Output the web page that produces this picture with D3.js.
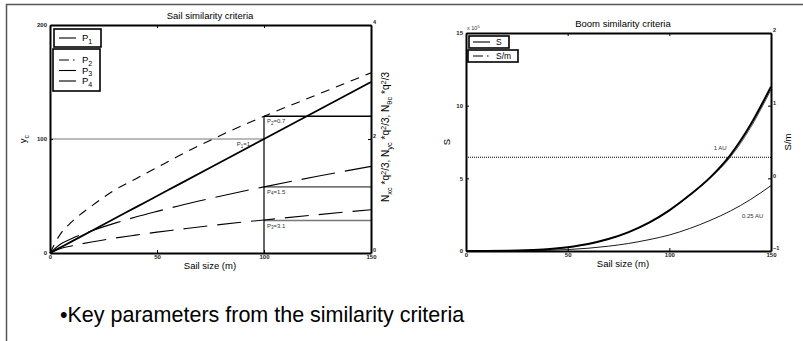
<!DOCTYPE html>
<html>
<head>
<meta charset="utf-8">
<script src="https://cdn.jsdelivr.net/npm/d3@7"></script>
<style>
  body { margin: 0; background: #fff; }
  svg { display: block; font-family: 'Liberation Sans', Arial, sans-serif; }
  .tick text { font-size: 6px; font-weight: bold; fill: #222; }
</style>
</head>
<body>
<svg id="chart" width="803" height="341"></svg>
<script>
// ---- sail similarity data (left panel) ----
const sailSize = [0, 5, 10, 20, 30, 40, 50, 60, 75, 100, 125, 150];
const p1Values = [0, 5, 10, 20, 30, 40, 50, 60, 75, 100, 125, 150];
const p2Values = [0, 17, 27, 42, 55, 65, 75, 85, 99, 120, 139, 158];
const p3Values = [0, 3.9, 6.2, 9.9, 13, 15.7, 18.3, 20.6, 24, 29, 33.6, 38];
const p4Values = [0, 7.9, 12.5, 19.8, 26, 31.5, 36.5, 41.3, 47.9, 58, 67.3, 76];
const sailRefs = [
  { name: 'P', sub: '1', val: '=1',   y: 100, from: 0,   to: 100 },
  { name: 'P', sub: '2', val: '=0.7', y: 120, from: 100, to: 150 },
  { name: 'P', sub: '4', val: '=1.5', y: 58,  from: 100, to: 150 },
  { name: 'P', sub: '3', val: '=3.1', y: 28.5, from: 100, to: 150 }
];
const sailXTicks = [0, 50, 100, 150];
const sailYTicks = [0, 100, 200];
const sailY2Ticks = [0, 2, 4];

// ---- boom similarity data (right panel) ----
const boomSize = [0, 10, 20, 30, 40, 50, 60, 70, 80, 90, 100, 110, 120, 130, 140, 150];
const boomS = [0, 0.001, 0.01, 0.045, 0.12, 0.26, 0.48, 0.82, 1.3, 1.95, 2.8, 3.85, 5.05, 6.6, 8.7, 11.3];
const boomSm = [-1, -1, -0.998, -0.99, -0.976, -0.95, -0.905, -0.838, -0.742, -0.613, -0.44, -0.235, 0.0, 0.29, 0.7, 1.22];
const boomQuarterAU = [0, 0, 0.004, 0.018, 0.05, 0.1, 0.19, 0.33, 0.52, 0.78, 1.1, 1.55, 2.1, 2.75, 3.55, 4.5];
const oneAULevel = 6.45;
const boomXTicks = [0, 50, 100, 150];
const boomYTicks = [0, 5, 10, 15];
const boomY2Ticks = [-1, 0, 1, 2];

const svg = d3.select('#chart');

// slide frame
svg.append('path')
  .attr('d', 'M6.5,341 V4.5 H803')
  .attr('fill', 'none')
  .attr('stroke', '#555')
  .attr('stroke-width', 1.5);

// draws a boxed MATLAB-style axes with inward ticks
function drawFrame(x, y, y2, xt, yt, y2t) {
  const [x0, x1] = x.range();
  const [yb, yt0] = y.range();
  const g = svg.append('g');
  const fmt = d3.format('d');
  const style = sel => {
    sel.select('.domain').attr('stroke', '#000').attr('stroke-width', 2);
    sel.selectAll('.tick line').attr('stroke', '#000').attr('stroke-width', 1);
  };
  g.append('g').attr('transform', `translate(0,${yb})`)
    .call(d3.axisBottom(x).tickValues(xt).tickFormat(fmt).tickSize(-3).tickSizeOuter(0).tickPadding(2))
    .call(style);
  g.append('g').attr('transform', `translate(0,${yt0})`)
    .call(d3.axisTop(x).tickValues(xt).tickSize(-3).tickSizeOuter(0).tickFormat(''))
    .call(style);
  g.append('g').attr('transform', `translate(${x0},0)`)
    .call(d3.axisLeft(y).tickValues(yt).tickFormat(fmt).tickSize(-3).tickSizeOuter(0).tickPadding(3))
    .call(style);
  g.append('g').attr('class', 'raxis').attr('transform', `translate(${x1},0)`)
    .call(d3.axisRight(y2).tickValues(y2t).tickFormat(fmt).tickSize(-3).tickSizeOuter(0).tickPadding(2))
    .call(style);
  g.selectAll('.tick text').attr('font-family', null).attr('font-size', null);
  g.selectAll('.raxis .tick text').attr('dy', '-0.2em').style('font-size', '5.5px');
  return g;
}

// ======== left panel ========
const x1 = d3.scaleLinear().domain([0, 150]).range([50, 371]);
const y1 = d3.scaleLinear().domain([0, 200]).range([253, 25]);
const y1r = d3.scaleLinear().domain([0, 4]).range([253, 25]);

const sailLine = vals => d3.line()
  .x((d, i) => x1(sailSize[i]))
  .y(d => y1(d))
  .curve(d3.curveMonotoneX)(vals);

const left = svg.append('g');

// reference lines
sailRefs.forEach((r, i) => {
  left.append('line')
    .attr('x1', x1(r.from)).attr('x2', x1(r.to))
    .attr('y1', y1(r.y)).attr('y2', y1(r.y))
    .attr('stroke', i === 1 ? '#000' : '#777')
    .attr('stroke-width', i === 0 ? 1.2 : 1.6);
});
left.append('line')
  .attr('x1', x1(100)).attr('x2', x1(100))
  .attr('y1', y1(0)).attr('y2', y1(120))
  .attr('stroke', '#000').attr('stroke-width', 1.2);

left.append('path').attr('d', sailLine(p3Values))
  .attr('fill', 'none').attr('stroke', '#000').attr('stroke-width', 1.1)
  .attr('stroke-dasharray', '24,10');
left.append('path').attr('d', sailLine(p4Values))
  .attr('fill', 'none').attr('stroke', '#000').attr('stroke-width', 1.1)
  .attr('stroke-dasharray', '34,10');
left.append('path').attr('d', sailLine(p2Values))
  .attr('fill', 'none').attr('stroke', '#000').attr('stroke-width', 1.1)
  .attr('stroke-dasharray', '9,7');
left.append('path').attr('d', sailLine(p1Values))
  .attr('fill', 'none').attr('stroke', '#000').attr('stroke-width', 1.8);

// reference labels
sailRefs.forEach((r, i) => {
  const t = left.append('text')
    .attr('x', i === 0 ? x1(100) - 14 : x1(100) + 3)
    .attr('y', y1(r.y) + 7)
    .attr('text-anchor', i === 0 ? 'end' : 'start')
    .attr('font-size', 6).attr('fill', '#333');
  t.append('tspan').text(r.name);
  t.append('tspan').attr('dy', 1.5).attr('font-size', 4.5).text(r.sub);
  t.append('tspan').attr('dy', -1.5).text(r.val);
});

drawFrame(x1, y1, y1r, sailXTicks, sailYTicks, sailY2Ticks);

// legends
function legendBox(g, x, y, w, h) {
  g.append('rect').attr('x', x).attr('y', y).attr('width', w).attr('height', h)
    .attr('fill', '#fff').attr('stroke', '#000').attr('stroke-width', 1.6);
}
function legendEntry(g, x, y, dash, main, sub, size) {
  g.append('line').attr('x1', x).attr('x2', x + 17).attr('y1', y).attr('y2', y)
    .attr('stroke', '#000').attr('stroke-width', 1.1)
    .attr('stroke-dasharray', dash);
  const t = g.append('text').attr('x', x + 23).attr('y', y + size * 0.33)
    .attr('font-size', size).attr('fill', '#000');
  t.append('tspan').text(main);
  if (sub) t.append('tspan').attr('dy', 2.5).attr('font-size', size * 0.75).text(sub);
}
legendBox(left, 54, 29, 47, 18);
legendEntry(left, 59, 38, null, 'P', '1', 9.5);
legendBox(left, 53, 49, 47, 42);
legendEntry(left, 59, 60, '10,4,1.5,4', 'P', '2', 9.5);
legendEntry(left, 59, 70.5, null, 'P', '3', 9.5);
legendEntry(left, 59, 81, null, 'P', '4', 9.5);

// titles and labels
left.append('text').attr('x', 210).attr('y', 19).attr('text-anchor', 'middle')
  .attr('font-size', 9.5).text('Sail similarity criteria');
left.append('text').attr('x', 210).attr('y', 269).attr('text-anchor', 'middle')
  .attr('font-size', 9.5).text('Sail size (m)');
{
  const t = left.append('text').attr('transform', 'translate(26,139) rotate(-90)')
    .attr('text-anchor', 'middle').attr('font-size', 9.5);
  t.append('tspan').text('y');
  t.append('tspan').attr('dy', 2.5).attr('font-size', 7).text('c');
}
{
  const t = left.append('text').attr('transform', 'translate(389,137) rotate(-90)')
    .attr('text-anchor', 'middle').attr('font-size', 10);
  const parts = [['N', 'xc', ' *q', '2', '/3, '], ['N', 'yc', ' *q', '2', '/3, '], ['N', 'θc', ' *q', '2', '/3']];
  parts.forEach(p => {
    t.append('tspan').text(p[0]);
    t.append('tspan').attr('dy', 2.5).attr('font-size', 7.5).text(p[1]);
    t.append('tspan').attr('dy', -2.5).text(p[2]);
    t.append('tspan').attr('dy', -3.5).attr('font-size', 7.5).text(p[3]);
    t.append('tspan').attr('dy', 3.5).text(p[4]);
  });
}

// ======== right panel ========
const x2 = d3.scaleLinear().domain([0, 150]).range([466, 771]);
const y2 = d3.scaleLinear().domain([0, 15]).range([251, 33]);
const y2r = d3.scaleLinear().domain([-1, 2]).range([251, 33]);

const right = svg.append('g');
const boomLine = (vals, yScale) => d3.line()
  .x((d, i) => x2(boomSize[i]))
  .y(d => yScale(d))
  .curve(d3.curveMonotoneX)(vals);

right.append('line')
  .attr('x1', x2(0)).attr('x2', x2(150))
  .attr('y1', y2(oneAULevel)).attr('y2', y2(oneAULevel))
  .attr('stroke', '#000').attr('stroke-width', 1)
  .attr('stroke-dasharray', '1,1');
right.append('path').attr('d', boomLine(boomQuarterAU, y2))
  .attr('fill', 'none').attr('stroke', '#000').attr('stroke-width', 0.9);
right.append('path').attr('d', boomLine(boomSm, y2r))
  .attr('fill', 'none').attr('stroke', '#444').attr('stroke-width', 0.9);
right.append('path').attr('d', boomLine(boomS, y2))
  .attr('fill', 'none').attr('stroke', '#000').attr('stroke-width', 2);

right.append('text').attr('x', x2(125)).attr('y', y2(oneAULevel) - 7)
  .attr('text-anchor', 'middle').attr('font-size', 6).attr('fill', '#333').text('1 AU');
right.append('text').attr('x', x2(141)).attr('y', y2(2.3))
  .attr('text-anchor', 'middle').attr('font-size', 6).attr('fill', '#333').text('0.25 AU');

drawFrame(x2, y2, y2r, boomXTicks, boomYTicks, boomY2Ticks);

legendBox(right, 469, 36, 40, 12);
legendEntry(right, 473, 42, null, 'S', null, 8.5);
legendBox(right, 468, 50, 50, 12);
legendEntry(right, 473, 56, '10,4,1.5,4', 'S/m', null, 8.5);

{
  const t = right.append('text').attr('x', 467).attr('y', 30).attr('font-size', 5.5).attr('fill', '#333');
  t.append('tspan').text('x 10');
  t.append('tspan').attr('dy', -2).attr('font-size', 4).text('5');
}
right.append('text').attr('x', 623).attr('y', 27).attr('text-anchor', 'middle')
  .attr('font-size', 9.5).text('Boom similarity criteria');
right.append('text').attr('x', 623).attr('y', 267).attr('text-anchor', 'middle')
  .attr('font-size', 9.5).text('Sail size (m)');
right.append('text').attr('transform', 'translate(450,142) rotate(-90)')
  .attr('text-anchor', 'middle').attr('font-size', 9.5).text('S');
right.append('text').attr('transform', 'translate(791,142) rotate(-90)')
  .attr('text-anchor', 'middle').attr('font-size', 9.5).text('S/m');

// caption
svg.append('text').attr('x', 60).attr('y', 322)
  .attr('font-size', 21.5).attr('fill', '#000')
  .text('•Key parameters from the similarity criteria');
</script>
</body>
</html>
